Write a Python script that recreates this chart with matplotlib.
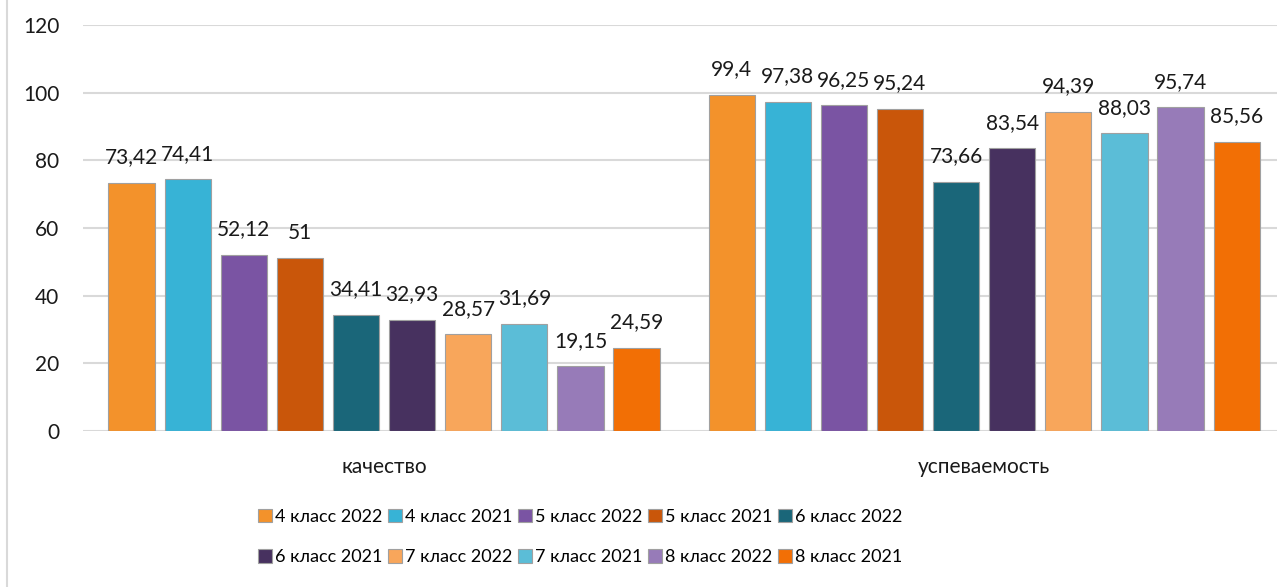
import numpy as np
import matplotlib.pyplot as plt
from matplotlib.lines import Line2D

plt.rcParams['font.family'] = ['Lato', 'DejaVu Sans']

# categories and series
categories = ["качество", "успеваемость"]
series = ["4 класс 2022", "4 класс 2021", "5 класс 2022", "5 класс 2021", "6 класс 2022",
          "6 класс 2021", "7 класс 2022", "7 класс 2021", "8 класс 2022", "8 класс 2021"]
values = [
    [73.42, 99.4],
    [74.41, 97.38],
    [52.12, 96.25],
    [51, 95.24],
    [34.41, 73.66],
    [32.93, 83.54],
    [28.57, 94.39],
    [31.69, 88.03],
    [19.15, 95.74],
    [24.59, 85.56],
]
labels = [
    ["73,42", "99,4"], ["74,41", "97,38"], ["52,12", "96,25"], ["51", "95,24"],
    ["34,41", "73,66"], ["32,93", "83,54"], ["28,57", "94,39"], ["31,69", "88,03"],
    ["19,15", "95,74"], ["24,59", "85,56"],
]
colors = ["#F3922B", "#37B3D6", "#7A54A3", "#C9560A", "#1A6679",
          "#47315F", "#F8A65B", "#5BBDD7", "#977BB8", "#F26F05"]

fig = plt.figure(figsize=(12.77, 5.87), dpi=100)
ax = fig.add_axes([83/1277, 156/587, 1 - 83/1277, (562-156)/587])

x = np.arange(len(categories))
step = 0.0935
width = 0.077
handles = []
for i, (name, vals) in enumerate(zip(series, values)):
    pos = x + (i - 4.5) * step
    bars = ax.bar(pos, vals, width, color=colors[i], edgecolor="#A0A0A0", linewidth=0.8,
                  label=name, zorder=3)
    handles.append(bars)
    for b, lab in zip(bars, labels[i]):
        ax.annotate(lab, (b.get_x() + b.get_width() / 2, b.get_height()),
                    xytext=(0, 11), textcoords="offset points",
                    ha="center", va="bottom", fontsize=15, color="#1a1a1a")

ax.set_ylim(0, 120)
ax.set_xlim(-0.5017, 1.488)
ax.set_yticks(np.arange(0, 121, 20))
ax.set_xticks(x)
ax.set_xticklabels(categories)
ax.tick_params(axis="both", length=0, labelsize=15, colors="#1a1a1a")
ax.tick_params(axis="y", pad=17)
ax.tick_params(axis="x", pad=19)
ax.grid(axis="y", color="#D9D9D9", linewidth=1.5, zorder=0)
for s in ax.spines.values():
    s.set_visible(False)

# legend filled row by row like the original
order = [0, 5, 1, 6, 2, 7, 3, 8, 4, 9]
fig.legend([handles[k] for k in order], [series[k] for k in order],
           loc="center", bbox_to_anchor=(580/1277, 1 - 537/587), ncol=5,
           frameon=False, fontsize=13, handlelength=0.8, handleheight=0.8,
           handletextpad=0.15, columnspacing=0.3, labelspacing=1.35)

fig.add_artist(Line2D([7/1277, 7/1277], [0, 1], color="#D9D9D9", linewidth=1.5))

fig.savefig("out.png", dpi=100)
